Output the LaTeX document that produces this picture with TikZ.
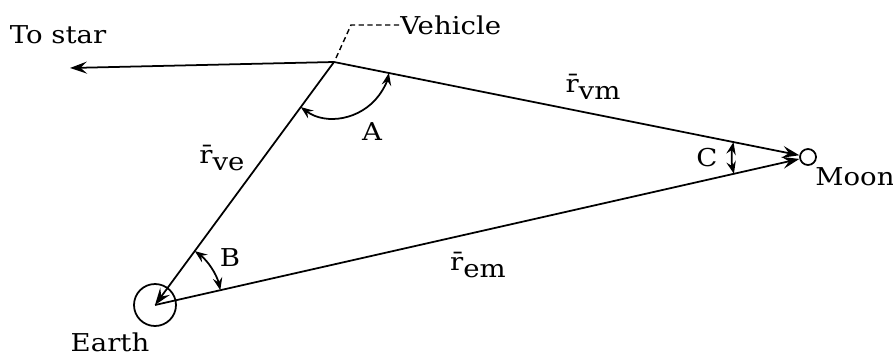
\documentclass[tikz,border=0pt]{standalone}
\usepackage{fontspec}
\usetikzlibrary{arrows.meta}
\newfontfamily\figfont[FakeStretch=1.12]{DejaVu Serif}
\newcommand{\rsub}[1]{\={r}\raisebox{-0.5ex}{#1}}

\begin{document}
\begin{tikzpicture}[x=0.02cm, y=-0.02cm,
  vec/.style={-{Stealth[length=3.4mm, width=2.4mm, inset=1.3mm]}, line width=1pt},
  ang/.style={{Stealth[length=2.5mm, width=1.9mm, inset=0.9mm]}-{Stealth[length=2.5mm, width=1.9mm, inset=0.9mm]}, line width=1pt},
  lbl/.style={inner sep=0pt, font=\fontsize{14}{16}\figfont},
  body/.style={draw, circle, line width=1pt, inner sep=0pt},
]
\useasboundingbox (0,0) rectangle (893,355);
\coordinate (veh) at (334,62);
\coordinate (star) at (70,68);
\node[body, minimum size=0.84cm] (earth) at (155,305) {};
\node[body, minimum size=0.32cm] (moon) at (808,157) {};
% vectors
\draw[vec] (veh) -- (star);
\draw[vec] (veh) -- (earth.center);
\draw[vec] (veh) -- (moon);
\draw[vec] (earth.center) -- (moon);
% angles
\draw[ang] ([shift={(126.4:56)}]veh) arc (126.4:11.3:56);
\draw[ang] ([shift={(-53.6:67)}]earth.center) arc (-53.6:-12.8:67);
\draw[ang] ([shift={(191.3:76)}]moon.center) arc (191.3:167.2:76);
% labels
\node[lbl] (tostar) at (58,35) {To star};
\node[lbl, anchor=west] (vehicle) at (400,25) {Vehicle};
\coordinate (kink) at (351,25);
\draw[dashed, line width=0.8pt, dash pattern=on 3pt off 2pt] ([shift={(2,-4)}]veh) -- (kink) -- (vehicle.west);
\node[lbl] (la) at (372,132) {A};
\node[lbl] (lb) at (230,258) {B};
\node[lbl] (lc) at (707,158) {C};
\node[lbl] (rve) at (222,158) {\rsub{ve}};
\node[lbl] (rvm) at (593,87) {\rsub{vm}};
\node[lbl] (rem) at (478,265) {\rsub{em}};
\node[lbl] (moonlbl) at (855,177) {Moon};
\node[lbl] (earthlbl) at (110,342) {Earth};
\end{tikzpicture}
\end{document}
